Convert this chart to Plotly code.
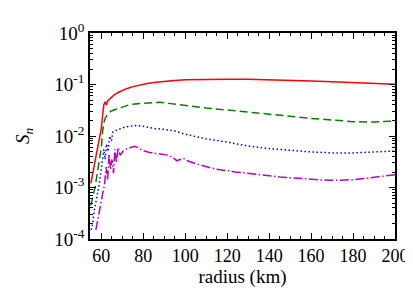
import plotly.graph_objects as go

# ---- data ----
red_x = [55, 56, 57, 58, 59, 60, 60.6, 61.2, 61.8, 62.4, 63, 64, 65, 66, 68, 70, 72, 75, 78, 82, 86, 90, 95,
         100, 110, 120, 130, 140, 150, 160, 170, 180, 190, 200]
red_y = [1.2e-3, 1.9e-3, 3e-3, 5e-3, 8e-3, 0.014, 0.025, 0.04, 0.046, 0.04, 0.048, 0.053, 0.058, 0.062, 0.07,
         0.077, 0.083, 0.091, 0.098, 0.105, 0.111, 0.116, 0.12, 0.123, 0.126, 0.127, 0.126, 0.124, 0.121,
         0.117, 0.113, 0.109, 0.105, 0.101]

green_x = [55, 56, 57, 58, 59, 60, 60.6, 61.2, 62, 63, 64.4, 66, 68, 70, 73, 76, 80, 85, 88, 92, 96, 100,
           110, 120, 130, 140, 150, 160, 170, 180, 190, 200]
green_y = [4.5e-4, 6.5e-4, 1.0e-3, 1.8e-3, 3.2e-3, 6e-3, 0.012, 0.018, 0.023, 0.026, 0.03, 0.032, 0.034,
           0.037, 0.040, 0.042, 0.043, 0.044, 0.045, 0.043, 0.041, 0.039, 0.035, 0.032, 0.029, 0.026, 0.024,
           0.022, 0.0205, 0.019, 0.0187, 0.0195]

blue_x = [55.2, 56, 56.6, 57.4, 58.2, 58.9, 59.7, 60.5, 61.2, 61.8, 62.5, 63.2, 64, 64.8, 65.5, 67, 69, 71,
          74, 77, 80, 85, 90, 95, 100, 110, 120, 130, 140, 150, 160, 170, 180, 190, 200]
blue_y = [1.5e-4, 2.2e-4, 3.5e-4, 5e-4, 7.6e-4, 1.1e-3, 1.9e-3, 3.6e-3, 5.5e-3, 3.5e-3, 7e-3, 5e-3, 1.0e-2,
          8e-3, 0.012, 0.0128, 0.014, 0.0148, 0.0155, 0.016, 0.0155, 0.014, 0.0135, 0.0125, 0.0108, 0.0088,
          0.0076, 0.0064, 0.0057, 0.0052, 0.0049, 0.0047, 0.0047, 0.0049, 0.0051]

mag_x = [57.4, 58.2, 59, 60, 61, 61.5, 62.3, 63, 63.7, 64.4, 65.1, 65.8, 66.5, 67.2, 68, 69, 70.5, 72, 74,
         76, 78, 80, 83, 87, 91, 94, 96, 99, 101, 105, 114, 124, 134, 145, 157, 165, 172, 180, 188, 195, 200]
mag_y = [1.5e-4, 2.3e-4, 3.7e-4, 6e-4, 9e-4, 1.1e-3, 2.5e-3, 1.4e-3, 4.5e-3, 2.2e-3, 3.5e-3, 1.9e-3, 5.5e-3,
         3.0e-3, 6e-3, 4.2e-3, 5.2e-3, 5.6e-3, 6.0e-3, 6.3e-3, 5.8e-3, 5.2e-3, 4.8e-3, 4.5e-3, 4.3e-3,
         3.9e-3, 3.3e-3, 3.7e-3, 3.3e-3, 2.9e-3, 2.3e-3, 2.0e-3, 1.77e-3, 1.6e-3, 1.48e-3, 1.4e-3, 1.38e-3,
         1.42e-3, 1.54e-3, 1.65e-3, 1.77e-3]

x_ticks = [60, 80, 100, 120, 140, 160, 180, 200]
y_ticks = [1e-4, 1e-3, 1e-2, 1e-1, 1]
y_tick_text = ["10<sup>-4</sup>", "10<sup>-3</sup>", "10<sup>-2</sup>", "10<sup>-1</sup>", "10<sup>0</sup>"]
y_minor = [m * d for d in (1e-4, 1e-3, 1e-2, 1e-1) for m in range(2, 10)]

FONT = "Liberation Serif, Times New Roman, serif"

fig = go.Figure()
fig.add_trace(go.Scatter(x=red_x, y=red_y, mode="lines",
                         line=dict(color="#ff0000", width=1.5)))
fig.add_trace(go.Scatter(x=green_x, y=green_y, mode="lines",
                         line=dict(color="#008000", width=1.5, dash="8px,4px")))
fig.add_trace(go.Scatter(x=blue_x, y=blue_y, mode="lines",
                         line=dict(color="#0000ff", width=1.5, dash="1.5px,2.5px")))
fig.add_trace(go.Scatter(x=mag_x, y=mag_y, mode="lines",
                         line=dict(color="#bf00bf", width=1.5, dash="9px,2.5px,1.5px,2.5px")))

axis_common = dict(showline=True, linecolor="black", linewidth=1.5, mirror="allticks",
                   ticks="inside", ticklen=6, tickwidth=1, tickcolor="black",
                   showgrid=False, zeroline=False)

fig.update_layout(
    width=413, height=289,
    margin=dict(l=82, r=17, t=14, b=58),
    paper_bgcolor="white", plot_bgcolor="white",
    showlegend=False,
    font=dict(family=FONT, size=18, color="black"),
    xaxis=dict(range=[54.6, 200], tickvals=x_ticks,
               tickfont=dict(family=FONT, size=18),
               minor=dict(ticks="inside", ticklen=3, dtick=5, tickcolor="black", showgrid=False),
               title=dict(text="radius (km)", standoff=0, font=dict(family=FONT, size=19)),
               **axis_common),
    yaxis=dict(type="log", range=[-4, 0], tickvals=y_ticks, ticktext=y_tick_text,
               tickfont=dict(family=FONT, size=19),
               minor=dict(ticks="inside", ticklen=3, tickvals=y_minor, tickcolor="black", showgrid=False),
               title=dict(text="<i>S</i><sub><i>n</i></sub>", standoff=20, font=dict(family=FONT, size=19)),
               **axis_common),
)

fig.write_html("out.html")
